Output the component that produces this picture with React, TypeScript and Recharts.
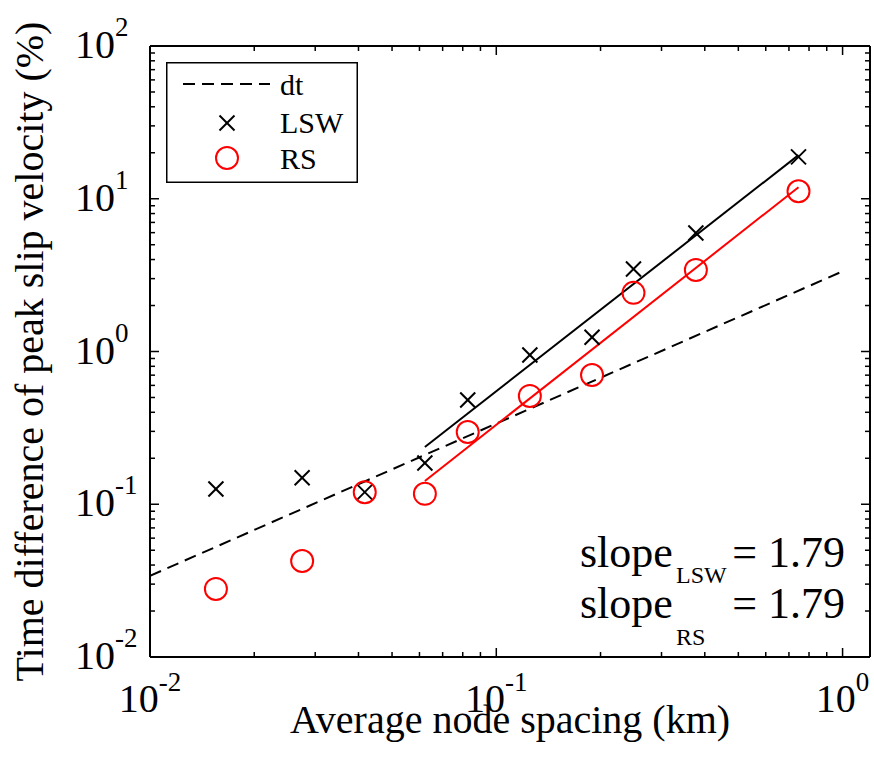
import React from "react"
import {
  ComposedChart, Line, Scatter, XAxis, YAxis, Legend, Customized,
} from "recharts"

// average node spacing (km) and time difference of peak slip velocity (%)
const spacingKm = [0.0155, 0.0275, 0.0417, 0.0622, 0.0827, 0.125, 0.189, 0.249, 0.377, 0.746]
const lswPct = [0.126, 0.149, 0.12, 0.186, 0.481, 0.948, 1.24, 3.47, 5.97, 18.8]
const rsPct = [0.0279, 0.0425, 0.12, 0.117, 0.297, 0.512, 0.702, 2.42, 3.42, 11.2]

// dt reference line and power-law fits
const dtX = [0.01, 1]
const dtY = [0.034, 3.35]
const fitX = [0.0622, 0.746]
const lswFitY = [0.237, 19.3]
const rsFitY = [0.142, 11.9]

const xMajor = [0.01, 0.1, 1]
const xExp = ["-2", "-1", "0"]
const yMajor = [0.01, 0.1, 1, 10, 100]
const yExp = ["-2", "-1", "0", "1", "2"]
const minorSteps = [2, 3, 4, 5, 6, 7, 8, 9]

const xDomain = [0.01, 1.2]
const yDomain = [0.01, 100]

const xTicks = [...xMajor, ...xMajor.flatMap((d) => minorSteps.map((m) => d * m))].filter((v) => v <= xDomain[1])
const yTicks = [...yMajor, ...yMajor.slice(0, -1).flatMap((d) => minorSteps.map((m) => d * m))]

const pts = (xs: number[], ys: number[]) => xs.map((x, i) => ({ x, y: ys[i] }))
const lswData = pts(spacingKm, lswPct)
const rsData = pts(spacingKm, rsPct)
const dtData = pts(dtX, dtY)
const lswFit = pts(fitX, lswFitY)
const rsFit = pts(fitX, rsFitY)

const FONT = "'Times New Roman', 'Liberation Serif', serif"
const MAJOR = 9
const MINOR = 5

const Cross = ({ cx, cy }: any) => (
  <g stroke="#000" strokeWidth={2}>
    <line x1={cx - 7.5} y1={cy - 7.5} x2={cx + 7.5} y2={cy + 7.5} />
    <line x1={cx - 7.5} y1={cy + 7.5} x2={cx + 7.5} y2={cy - 7.5} />
  </g>
)

const Ring = ({ cx, cy }: any) => (
  <circle cx={cx} cy={cy} r={11} fill="none" stroke="#ff0000" strokeWidth={2} />
)

const BottomTick = ({ x, y, payload }: any) => {
  const i = xMajor.indexOf(payload.value)
  return (
    <g>
      <line x1={x} y1={y} x2={x} y2={y - (i >= 0 ? MAJOR : MINOR)} stroke="#000" strokeWidth={1.5} />
      {i >= 0 && (
        <text x={x} y={y + 55} textAnchor="middle" fontFamily={FONT} fontSize={40} fill="#000">
          10<tspan dy={-21} fontSize={27}>{xExp[i]}</tspan>
        </text>
      )}
    </g>
  )
}

const TopTick = ({ x, y, payload }: any) => {
  const major = xMajor.includes(payload.value)
  return <line x1={x} y1={y} x2={x} y2={y + (major ? MAJOR : MINOR)} stroke="#000" strokeWidth={1.5} />
}

const LeftTick = ({ x, y, payload }: any) => {
  const i = yMajor.indexOf(payload.value)
  return (
    <g>
      <line x1={x} y1={y} x2={x + (i >= 0 ? MAJOR : MINOR)} y2={y} stroke="#000" strokeWidth={1.5} />
      {i >= 0 && (
        <text x={75} y={y + 12} textAnchor="start" fontFamily={FONT} fontSize={40} fill="#000">
          10<tspan dy={-22} fontSize={27}>{yExp[i]}</tspan>
        </text>
      )}
    </g>
  )
}

const RightTick = ({ x, y, payload }: any) => {
  const major = yMajor.includes(payload.value)
  return <line x1={x} y1={y} x2={x - (major ? MAJOR : MINOR)} y2={y} stroke="#000" strokeWidth={1.5} />
}

const LegendBox = () => (
  <svg width={192} height={121} style={{ display: "block" }}>
    <rect x={0.75} y={0.75} width={190.5} height={119.5} fill="#fff" stroke="#000" strokeWidth={1.5} />
    <line x1={17} y1={22} x2={104} y2={22} stroke="#000" strokeWidth={2} strokeDasharray="12 7" />
    <Cross cx={61} cy={61} />
    <Ring cx={61} cy={96} />
    <g fontFamily={FONT} fontSize={30} fill="#000">
      <text x={114} y={33}>dt</text>
      <text x={114} y={71}>LSW</text>
      <text x={114} y={107}>RS</text>
    </g>
  </svg>
)

const Notes = () => (
  <g fontFamily={FONT} fill="#000">
    <text x={43} y={351.5} fontSize={40} textAnchor="middle" transform="rotate(-90 43 351.5)">
      Time difference of peak slip velocity (%)
    </text>
    <text x={510} y={733} fontSize={40} textAnchor="middle">Average node spacing (km)</text>
    <text x={580} y={567} fontSize={44}>slope</text>
    <text x={676} y={583} fontSize={24}>LSW</text>
    <text x={845} y={567} fontSize={44} textAnchor="end">= 1.79</text>
    <text x={580} y={618} fontSize={44}>slope</text>
    <text x={676} y={645} fontSize={24}>RS</text>
    <text x={845} y={618} fontSize={44} textAnchor="end">= 1.79</text>
  </g>
)

export default function App() {
  return (
    <div style={{ position: "absolute", left: 0, top: 0, background: "#fff" }}>
      <ComposedChart width={874} height={768} margin={{ top: 45, right: 3, bottom: 0, left: 0 }}>
        <XAxis
          dataKey="x" type="number" scale="log" domain={xDomain} allowDataOverflow
          ticks={xTicks} interval={0} height={111} tickSize={0} tickMargin={0} tickLine={false}
          axisLine={{ stroke: "#000", strokeWidth: 2 }} tick={BottomTick}
        />
        <XAxis
          xAxisId="top" orientation="top" dataKey="x" type="number" scale="log" domain={xDomain} allowDataOverflow
          ticks={xTicks} interval={0} height={1} tickSize={0} tickMargin={0} tickLine={false}
          axisLine={{ stroke: "#000", strokeWidth: 2 }} tick={TopTick}
        />
        <YAxis
          dataKey="y" type="number" scale="log" domain={yDomain} allowDataOverflow
          ticks={yTicks} interval={0} width={150} tickSize={0} tickMargin={0} tickLine={false}
          axisLine={{ stroke: "#000", strokeWidth: 2 }} tick={LeftTick}
        />
        <YAxis
          yAxisId="right" orientation="right" dataKey="y" type="number" scale="log" domain={yDomain} allowDataOverflow
          ticks={yTicks} interval={0} width={1} tickSize={0} tickMargin={0} tickLine={false}
          axisLine={{ stroke: "#000", strokeWidth: 2 }} tick={RightTick}
        />
        <Line data={dtData} dataKey="y" type="linear" stroke="#000" strokeWidth={2} strokeDasharray="12 7" dot={false} isAnimationActive={false} />
        <Line data={lswFit} dataKey="y" type="linear" stroke="#000" strokeWidth={2} dot={false} isAnimationActive={false} />
        <Line data={rsFit} dataKey="y" type="linear" stroke="#ff0000" strokeWidth={2} dot={false} isAnimationActive={false} />
        <Scatter data={lswData} dataKey="y" shape={Cross} isAnimationActive={false} />
        <Scatter data={rsData} dataKey="y" shape={Ring} isAnimationActive={false} />
        <Legend
          layout="horizontal" verticalAlign="middle" align="center" width={192} height={121}
          wrapperStyle={{ left: 166, top: 62, width: 192, height: 121 }}
          content={LegendBox}
        />
        <Customized component={Notes} />
      </ComposedChart>
    </div>
  )
}
